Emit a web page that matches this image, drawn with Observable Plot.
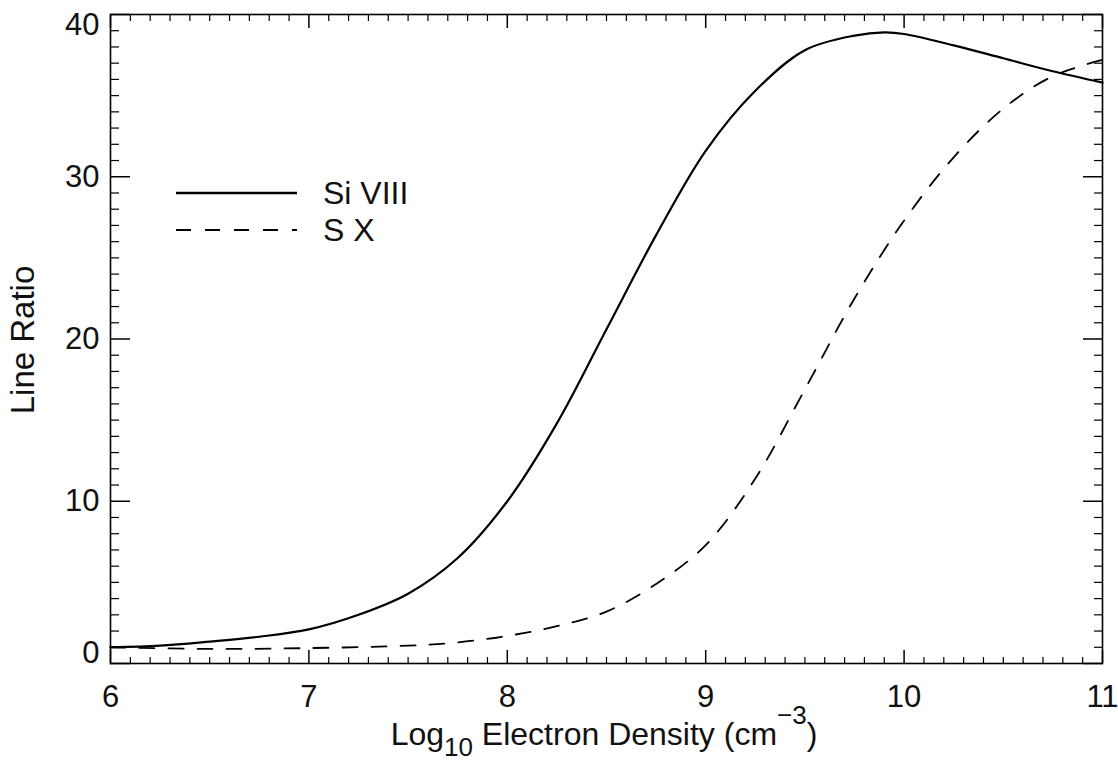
<!DOCTYPE html>
<html><head><meta charset="utf-8">
<script src="https://cdn.jsdelivr.net/npm/d3@7"></script>
<script src="https://cdn.jsdelivr.net/npm/@observablehq/plot@0.6"></script>
<style>
body{margin:0;background:#fff}
#chart{width:1118px;height:761px}
</style>
</head><body><div id="chart"></div>
<script>
// Si VIII line ratio vs log10 electron density
const siDensity = [6.0, 6.25, 6.5, 6.75, 7.0, 7.25, 7.5, 7.75, 8.0, 8.25, 8.5, 8.75, 9.0, 9.25, 9.5, 9.75, 9.9, 10.0, 10.25, 10.5, 10.75, 11.0];
const siRatio   = [1.0, 1.1, 1.35, 1.65, 2.1, 3.0, 4.3, 6.5, 10.0, 14.8, 20.6, 26.4, 31.6, 35.3, 37.8, 38.7, 38.9, 38.8, 38.1, 37.3, 36.5, 35.8];
// S X line ratio vs log10 electron density
const sxDensity = [6.0, 6.5, 7.0, 7.5, 7.75, 8.0, 8.25, 8.5, 8.75, 9.0, 9.25, 9.5, 9.75, 10.0, 10.25, 10.5, 10.75, 11.0];
const sxRatio   = [1.0, 0.9, 0.95, 1.1, 1.3, 1.7, 2.3, 3.2, 4.9, 7.3, 11.4, 16.9, 22.5, 27.3, 31.2, 34.2, 36.2, 37.2];

const seriesNames = ["Si VIII", "S X"];
const xMajor = [6, 7, 8, 9, 10, 11];
const xMinor = d3.range(60, 111).filter(v => v % 10 !== 0).map(v => v / 10);
const yMajor = [0, 10, 20, 30, 40];
const yMinor = d3.range(0, 41).filter(v => v % 10 !== 0);

const siData = siDensity.map((x, i) => ({x, y: siRatio[i]}));
const sxData = sxDensity.map((x, i) => ({x, y: sxRatio[i]}));

const font = "'Liberation Sans', Arial, Helvetica, sans-serif";
const fmt = d => String(d);

const svgEl = Plot.plot({
  width: 1118, height: 761,
  marginLeft: 110, marginRight: 16, marginTop: 14, marginBottom: 98,
  x: {domain: [6, 11]},
  y: {domain: [0, 40]},
  style: {fontFamily: font, fontSize: "31px", color: "#000", background: "#fff", overflow: "visible"},
  marks: [
    // inward ticks on all four sides
    Plot.axisX(xMajor, {anchor: "bottom", tickSize: -13, fill: "none", label: null, strokeWidth: 1.5}),
    Plot.axisX(xMinor, {anchor: "bottom", tickSize: -6, fill: "none", label: null, strokeWidth: 1.2}),
    Plot.axisX(xMajor, {anchor: "top", tickSize: -13, fill: "none", label: null, strokeWidth: 1.5}),
    Plot.axisX(xMinor, {anchor: "top", tickSize: -6, fill: "none", label: null, strokeWidth: 1.2}),
    Plot.axisY(yMajor, {anchor: "left", tickSize: -20, fill: "none", label: null, strokeWidth: 1.5}),
    Plot.axisY(yMinor, {anchor: "left", tickSize: -9, fill: "none", label: null, strokeWidth: 1.2}),
    Plot.axisY(yMajor, {anchor: "right", tickSize: -20, fill: "none", label: null, strokeWidth: 1.5}),
    Plot.axisY(yMinor, {anchor: "right", tickSize: -9, fill: "none", label: null, strokeWidth: 1.2}),
    // tick labels
    Plot.axisX(xMajor, {anchor: "bottom", tickSize: 0, tickPadding: 21, label: null, fill: "#111", tickFormat: fmt}),
    Plot.axisY([10, 20, 30], {anchor: "left", tickSize: 0, tickPadding: 11, label: null, fill: "#111", tickFormat: fmt}),
    Plot.axisY([0], {anchor: "left", tickSize: 0, tickPadding: 11, label: null, fill: "#111", dy: -10, tickFormat: fmt}),
    Plot.axisY([40], {anchor: "left", tickSize: 0, tickPadding: 11, label: null, fill: "#111", dy: 11, tickFormat: fmt}),
    Plot.frame({stroke: "#000", strokeWidth: 1.6}),
    // data
    Plot.line(siData, {x: "x", y: "y", curve: "catmull-rom", stroke: "#000", strokeWidth: 2.2}),
    Plot.line(sxData, {x: "x", y: "y", curve: "catmull-rom", stroke: "#000", strokeWidth: 1.8, strokeDasharray: "15,14"})
  ]
});

const svg = d3.select(svgEl);

// X axis title with subscript and superscript
const xt = svg.append("text")
  .attr("x", 604).attr("y", 745)
  .attr("text-anchor", "middle")
  .attr("fill", "#111")
  .style("font-family", font).style("font-size", "32px");
xt.append("tspan").text("Log");
xt.append("tspan").attr("dy", 11).style("font-size", "26px").text("10");
xt.append("tspan").attr("dy", -11).text(" Electron Density (cm");
xt.append("tspan").attr("dy", -21).style("font-size", "26px").text("\u22123");
xt.append("tspan").attr("dy", 21).text(")");

// Y axis title
svg.append("text")
  .attr("transform", "translate(34,340) rotate(-90)")
  .attr("text-anchor", "middle")
  .attr("fill", "#111")
  .style("font-family", font).style("font-size", "33px")
  .text("Line Ratio");

// Legend
const legendY = [193, 230];
const dashes = [null, "15,14"];
const widths = [2.6, 1.8];
seriesNames.forEach((name, i) => {
  svg.append("line")
    .attr("x1", 176).attr("x2", 297)
    .attr("y1", legendY[i]).attr("y2", legendY[i])
    .attr("stroke", "#000").attr("stroke-width", widths[i])
    .attr("stroke-dasharray", dashes[i]);
  svg.append("text")
    .attr("x", 323).attr("y", legendY[i] + 11)
    .attr("text-anchor", "start")
    .attr("fill", "#111")
    .style("font-family", font).style("font-size", "32px")
    .text(name);
});

document.getElementById("chart").append(svgEl);
</script>
</body></html>
